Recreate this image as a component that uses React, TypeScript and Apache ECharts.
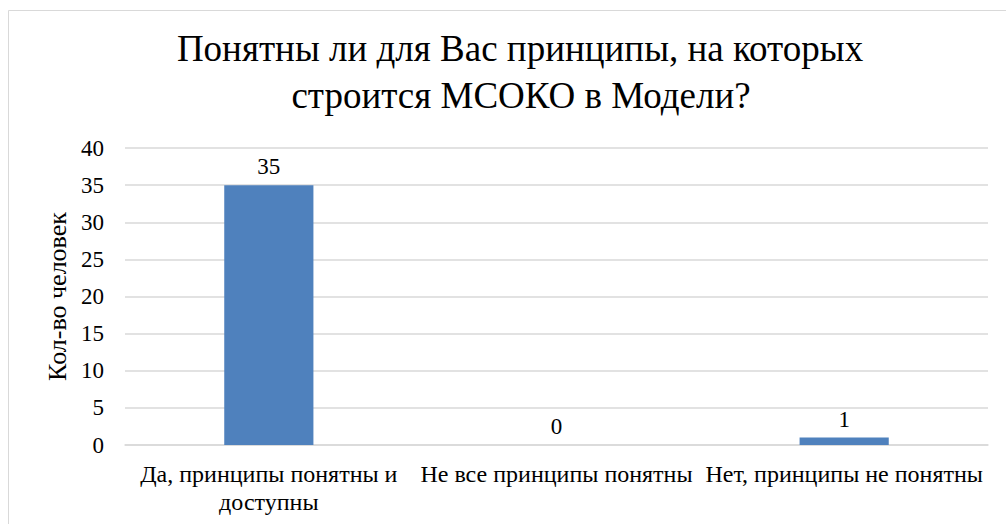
import React, { useEffect, useRef } from "react";
import * as echarts from "echarts";

const titleLines = ["Понятны ли для Вас принципы, на которых", "строится МСОКО в Модели?"];
const categories = ["Да, принципы понятны и\nдоступны", "Не все принципы понятны", "Нет, принципы не понятны"];
const values = [35, 0, 1];
const yAxisName = "Кол-во человек";
const yMin = 0;
const yMax = 40;
const yStep = 5;

const FONT = "Liberation Serif";

export default function App() {
  const ref = useRef<HTMLDivElement>(null);
  useEffect(() => {
    if (!ref.current) return;
    const chart = echarts.init(ref.current, undefined, { renderer: "svg" });
    chart.setOption({
      animation: false,
      backgroundColor: "#ffffff",
      textStyle: { fontFamily: FONT, color: "#000" },
      graphic: [
        {
          type: "rect",
          shape: { x: 8.5, y: 10.5, width: 1010, height: 530 },
          style: { fill: "none", stroke: "#d9d9d9", lineWidth: 1 },
          silent: true,
        },
        {
          type: "text",
          x: 520,
          y: 48,
          style: { text: titleLines[0], fontFamily: FONT, fontSize: 37, fill: "#000", align: "center", verticalAlign: "middle" },
        },
        {
          type: "text",
          x: 521,
          y: 95,
          style: { text: titleLines[1], fontFamily: FONT, fontSize: 37, fill: "#000", align: "center", verticalAlign: "middle" },
        },
      ],
      grid: { left: 125, right: 18, top: 148, bottom: 79, containLabel: false },
      xAxis: {
        type: "category",
        data: categories,
        axisLine: { show: true, lineStyle: { color: "#d9d9d9", width: 1.5 } },
        axisTick: { show: false },
        axisLabel: { fontFamily: FONT, fontSize: 24, color: "#000", margin: 15, lineHeight: 28, interval: 0 },
      },
      yAxis: {
        type: "value",
        min: yMin,
        max: yMax,
        interval: yStep,
        name: yAxisName,
        nameLocation: "middle",
        nameGap: 54,
        nameRotate: 90,
        nameTextStyle: { fontFamily: FONT, fontSize: 26, color: "#000" },
        axisLine: { show: false },
        axisTick: { show: false },
        splitLine: { lineStyle: { color: "#d9d9d9", width: 1.5 } },
        axisLabel: { fontFamily: FONT, fontSize: 23, color: "#000", margin: 21 },
      },
      series: [
        {
          type: "bar",
          data: values,
          barWidth: "31%",
          itemStyle: { color: "#4f81bd" },
          label: { show: true, position: "top", distance: 7, fontFamily: FONT, fontSize: 23, color: "#000" },
        },
      ],
    });
    return () => chart.dispose();
  }, []);
  return <div ref={ref} style={{ position: "absolute", left: 0, top: 0, width: 1006, height: 524 }} />;
}
